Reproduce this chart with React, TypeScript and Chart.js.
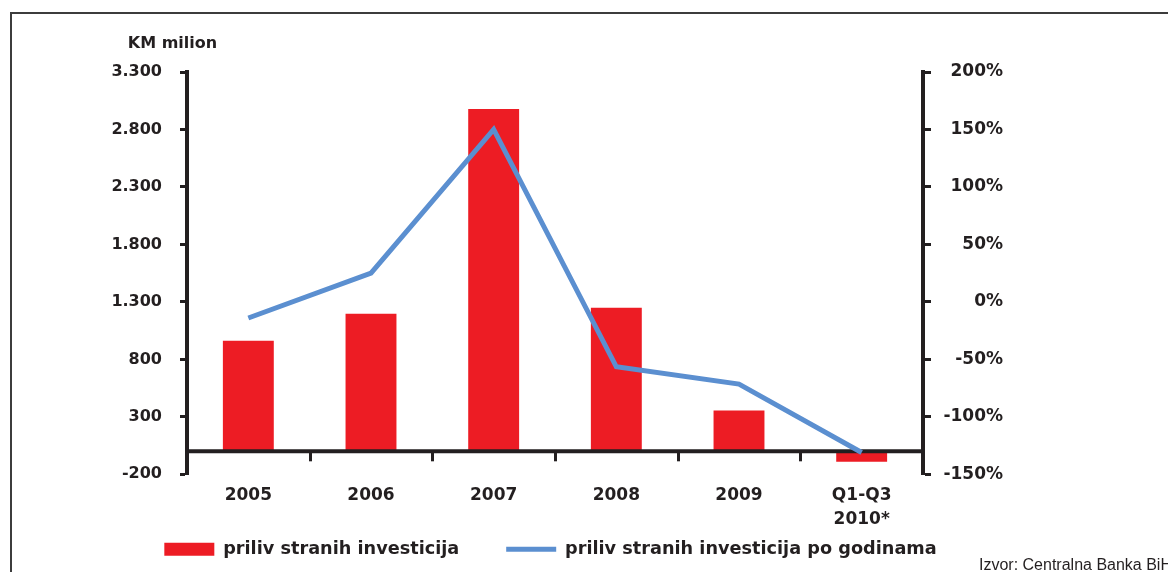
import React, { useEffect, useRef } from 'react';
import { Chart, registerables } from 'chart.js';

Chart.register(...registerables);

// ---- data ----
const categories: (string | string[])[] = ['2005', '2006', '2007', '2008', '2009', ['Q1-Q3', '2010*']];
const fdiInflow = [961, 1196, 2978, 1248, 356, -91];
const yearlyChange = [-14, 25, 150, -56.5, -71.5, -131];
const seriesLabels = ['priliv stranih investicija', 'priliv stranih investicija po godinama'];
const leftAxisMin = -200;
const leftAxisMax = 3300;
const leftAxisStep = 500;
const rightAxisMin = -150;
const rightAxisMax = 200;
const rightAxisStep = 50;
const axisTitle = 'KM milion';
const sourceNote = 'Izvor: Centralna Banka BiH';

// ---- styles ----
const DARK = '#231f20';
const RED = '#ed1c24';
const BLUE = '#5b8fd0';
const FONT = 'DejaVu Sans';

const fmtThousands = (v: number) => {
  const s = Math.abs(Math.round(v)).toString().replace(/\B(?=(\d{3})+(?!\d))/g, '.');
  return (v < 0 ? '-' : '') + s;
};

const decorPlugin = {
  id: 'decor',
  beforeDraw(chart: any) {
    const ctx = chart.ctx;
    ctx.save();
    ctx.strokeStyle = '#3c3c3c';
    ctx.lineWidth = 2;
    ctx.beginPath();
    ctx.moveTo(11, chart.height);
    ctx.lineTo(11, 13);
    ctx.lineTo(chart.width, 13);
    ctx.stroke();
    ctx.restore();
  },
  afterDatasetDraw(chart: any, args: any) {
    if (args.index !== 0) return;
    const { ctx, chartArea, scales } = chart;
    const y0 = scales.y.getPixelForValue(0);
    ctx.save();
    ctx.strokeStyle = DARK;
    ctx.lineWidth = 4;
    ctx.beginPath();
    ctx.moveTo(chartArea.left, y0);
    ctx.lineTo(chartArea.right, y0);
    ctx.stroke();
    ctx.lineWidth = 3;
    for (let i = 0; i < categories.length - 1; i++) {
      const x = Math.round((scales.x.getPixelForValue(i) + scales.x.getPixelForValue(i + 1)) / 2) + 0.5;
      ctx.beginPath();
      ctx.moveTo(x, y0);
      ctx.lineTo(x, y0 + 10);
      ctx.stroke();
    }
    ctx.restore();
  },
  afterDraw(chart: any) {
    const { ctx, chartArea, scales } = chart;
    ctx.save();
    ctx.fillStyle = DARK;
    ctx.font = `bold 16px "${FONT}"`;
    ctx.textAlign = 'center';
    ctx.textBaseline = 'alphabetic';
    ctx.fillText(axisTitle, scales.y.right - 14.5, chartArea.top - 24);
    ctx.font = '16px "Liberation Sans"';
    ctx.textAlign = 'left';
    ctx.fillText(sourceNote, 979, 570);
    ctx.restore();
  },
};

export default function App() {
  const canvasRef = useRef<HTMLCanvasElement | null>(null);

  useEffect(() => {
    document.body.style.margin = '0';
    const canvas = canvasRef.current;
    if (!canvas) return;
    const chart = new Chart(canvas, {
      type: 'bar',
      data: {
        labels: categories as any,
        datasets: [
          {
            type: 'bar',
            label: seriesLabels[0],
            data: fdiInflow,
            backgroundColor: RED,
            borderWidth: 0,
            barPercentage: 0.415,
            categoryPercentage: 1,
            yAxisID: 'y',
            order: 2,
          } as any,
          {
            type: 'line',
            label: seriesLabels[1],
            data: yearlyChange,
            borderColor: BLUE,
            backgroundColor: BLUE,
            borderWidth: 5,
            pointRadius: 0,
            tension: 0,
            fill: false,
            yAxisID: 'y1',
            order: 1,
          } as any,
        ],
      },
      options: {
        responsive: false,
        animation: false,
        devicePixelRatio: 1,
        layout: { padding: { top: 72, left: 98, right: 165, bottom: 4 } },
        scales: {
          x: {
            offset: true,
            grid: { display: false, drawTicks: false },
            border: { display: false },
            ticks: {
              color: DARK,
              font: { family: FONT, weight: 'bold', size: 17, lineHeight: 1.44 },
              padding: 9,
              maxRotation: 0,
              autoSkip: false,
            },
            afterFit: (s: any) => { s.height = 56; },
          },
          y: {
            position: 'left',
            min: leftAxisMin,
            max: leftAxisMax,
            grid: { drawOnChartArea: false, drawTicks: true, tickLength: 7, tickWidth: 3, tickColor: DARK, color: DARK },
            border: { display: true, color: DARK, width: 4 },
            ticks: {
              stepSize: leftAxisStep,
              color: DARK,
              padding: 18,
              font: { family: FONT, weight: 'bold', size: 16 },
              callback: (v: any) => fmtThousands(Number(v)),
            },
            afterFit: (s: any) => { s.width = 89; },
          },
          y1: {
            position: 'right',
            min: rightAxisMin,
            max: rightAxisMax,
            grid: { drawOnChartArea: false, drawTicks: true, tickLength: 8, tickWidth: 3, tickColor: DARK, color: DARK },
            border: { display: true, color: DARK, width: 4 },
            ticks: {
              stepSize: rightAxisStep,
              color: DARK,
              crossAlign: 'far',
              font: { family: FONT, weight: 'bold', size: 17 },
              callback: (v: any) => `${v}%`,
            },
            afterFit: (s: any) => { s.width = 80; },
          },
        },
        plugins: {
          tooltip: { enabled: false },
          legend: {
            position: 'bottom',
            labels: {
              usePointStyle: true,
              pointStyleWidth: 50,
              boxHeight: 13,
              padding: 10,
              color: DARK,
              font: { family: FONT, weight: 'bold', size: 17.7 },
              generateLabels: () => [
                {
                  text: seriesLabels[0] + '      ',
                  fillStyle: RED,
                  strokeStyle: RED,
                  lineWidth: 0,
                  pointStyle: 'rect',
                  hidden: false,
                  datasetIndex: 0,
                  fontColor: DARK,
                },
                {
                  text: seriesLabels[1],
                  fillStyle: BLUE,
                  strokeStyle: BLUE,
                  lineWidth: 5,
                  pointStyle: 'line',
                  hidden: false,
                  datasetIndex: 1,
                  fontColor: DARK,
                },
              ],
            },
          },
        },
      } as any,
      plugins: [decorPlugin],
    });
    return () => chart.destroy();
  }, []);

  return (
    <div style={{ width: 1168, height: 572, background: '#fff' }}>
      <canvas ref={canvasRef} width={1168} height={572} style={{ width: 1168, height: 572, display: 'block' }} />
    </div>
  );
}
